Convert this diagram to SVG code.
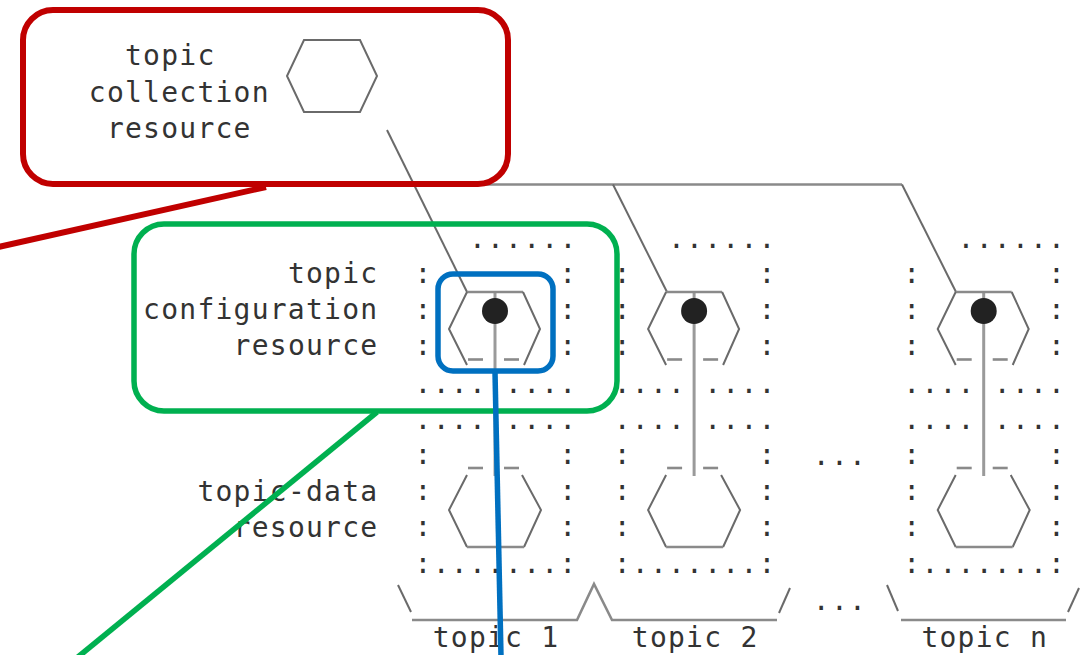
<svg xmlns="http://www.w3.org/2000/svg" width="1082" height="655" viewBox="0 0 1082 655">
<style>
.t{font-family:"DejaVu Sans Mono","Liberation Mono",monospace;font-size:28px;letter-spacing:1.24px;fill:#333}
.ln{stroke:#6a6a6a;stroke-width:2;fill:none;stroke-linejoin:miter}
.hz{stroke:#8a8a8a;stroke-width:2.6;fill:none}
.vt{stroke:#9a9a9a;stroke-width:3;fill:none}
.red{stroke:#c00000;stroke-width:6;fill:none}
.green{stroke:#00b050;stroke-width:5.5;fill:none}
.blue{stroke:#0070c0;stroke-width:5.5;fill:none}
</style>
<defs>
<g id="topic-col">
  <text class="t" xml:space="preserve" x="468.9" y="248">......</text>
  <text class="t" xml:space="preserve" x="414.6" y="282.5">:       :</text>
  <text class="t" xml:space="preserve" x="414.6" y="319">:       :</text>
  <text class="t" xml:space="preserve" x="414.6" y="355">:       :</text>
  <text class="t" xml:space="preserve" x="414.6" y="392.5">.... ....</text>
  <text class="t" xml:space="preserve" x="414.6" y="428.5">.... ....</text>
  <text class="t" xml:space="preserve" x="414.6" y="464">:       :</text>
  <text class="t" xml:space="preserve" x="414.6" y="500">:       :</text>
  <text class="t" xml:space="preserve" x="414.6" y="536">:       :</text>
  <text class="t" xml:space="preserve" x="414.6" y="572.5">:.......:</text>
  <line class="vt" x1="495" y1="292" x2="495" y2="476"/>
  <line class="hz" x1="467" y1="292" x2="523" y2="292"/>
  <polyline class="ln" points="467,292 449,329 467,365"/>
  <polyline class="ln" points="523,292 540,329 524,365"/>
  <line class="hz" x1="468" y1="359.5" x2="483" y2="359.5"/>
  <line class="hz" x1="504" y1="359.5" x2="519" y2="359.5"/>
  <circle cx="495" cy="311" r="13" fill="#222"/>
  <line class="hz" x1="468" y1="468" x2="483" y2="468"/>
  <line class="hz" x1="504" y1="468" x2="519" y2="468"/>
  <polyline class="ln" points="467,475 449,510 467,547"/>
  <polyline class="ln" points="522,475 541,510 524,547"/>
  <line class="hz" x1="467" y1="547" x2="524" y2="547"/>
</g>
</defs>

<g id="connectors">
  <line class="ln" x1="387" y1="130" x2="467" y2="292"/>
  <line class="hz" x1="414" y1="184.5" x2="902" y2="184.5"/>
  <line class="ln" x1="613" y1="184.5" x2="667" y2="292"/>
  <line class="ln" x1="902" y1="184.5" x2="956" y2="292"/>
  <line class="ln" x1="398" y1="585" x2="411" y2="612"/>
  <polyline class="hz" points="412,620 577,620 594,584 612,620 777,620"/>
  <line class="ln" x1="779" y1="613" x2="790" y2="588"/>
  <line class="ln" x1="887" y1="585" x2="898" y2="611"/>
  <line class="hz" x1="901" y1="620" x2="1066" y2="620"/>
  <line class="ln" x1="1068" y1="612" x2="1079" y2="588"/>
</g>

<g id="topic-collection-resource">
  <polygon class="ln" points="304,40 360,40 377,76 360,112 304,112 287,76"/>
  <text class="t" x="125" y="65">topic</text>
  <text class="t" x="88.8" y="101.5">collection</text>
  <text class="t" x="106.9" y="138">resource</text>
</g>

<g id="resource-labels">
  <text class="t" x="287.9" y="282.5">topic</text>
  <text class="t" x="143.1" y="319">configuration</text>
  <text class="t" x="233.6" y="355">resource</text>
  <text class="t" x="197.4" y="501">topic-data</text>
  <text class="t" x="233.6" y="536.5">resource</text>
</g>

<g id="topic-1">
  <use href="#topic-col"/>
  <text class="t" x="432.7" y="647">topic 1</text>
</g>
<g id="topic-2">
  <use href="#topic-col" transform="translate(199.1,0)"/>
  <text class="t" x="631.8" y="647">topic 2</text>
</g>
<g id="topic-ellipsis">
  <text class="t" x="812.8" y="465">...</text>
  <text class="t" x="812.8" y="610">...</text>
</g>
<g id="topic-n">
  <use href="#topic-col" transform="translate(488.7,0)"/>
  <text class="t" x="921.4" y="647">topic n</text>
</g>

<g id="callout-collection">
  <rect class="red" x="23" y="10" width="485" height="174" rx="30"/>
  <line class="red" x1="266" y1="187" x2="-6" y2="248"/>
</g>
<g id="callout-configuration">
  <rect class="green" x="134" y="224" width="483" height="187" rx="30"/>
  <line class="green" x1="377" y1="412" x2="78" y2="657"/>
</g>
<g id="callout-config-instance">
  <rect class="blue" x="438" y="274" width="115" height="97" rx="15"/>
  <line class="blue" x1="495" y1="372" x2="501" y2="657"/>
</g>
</svg>
